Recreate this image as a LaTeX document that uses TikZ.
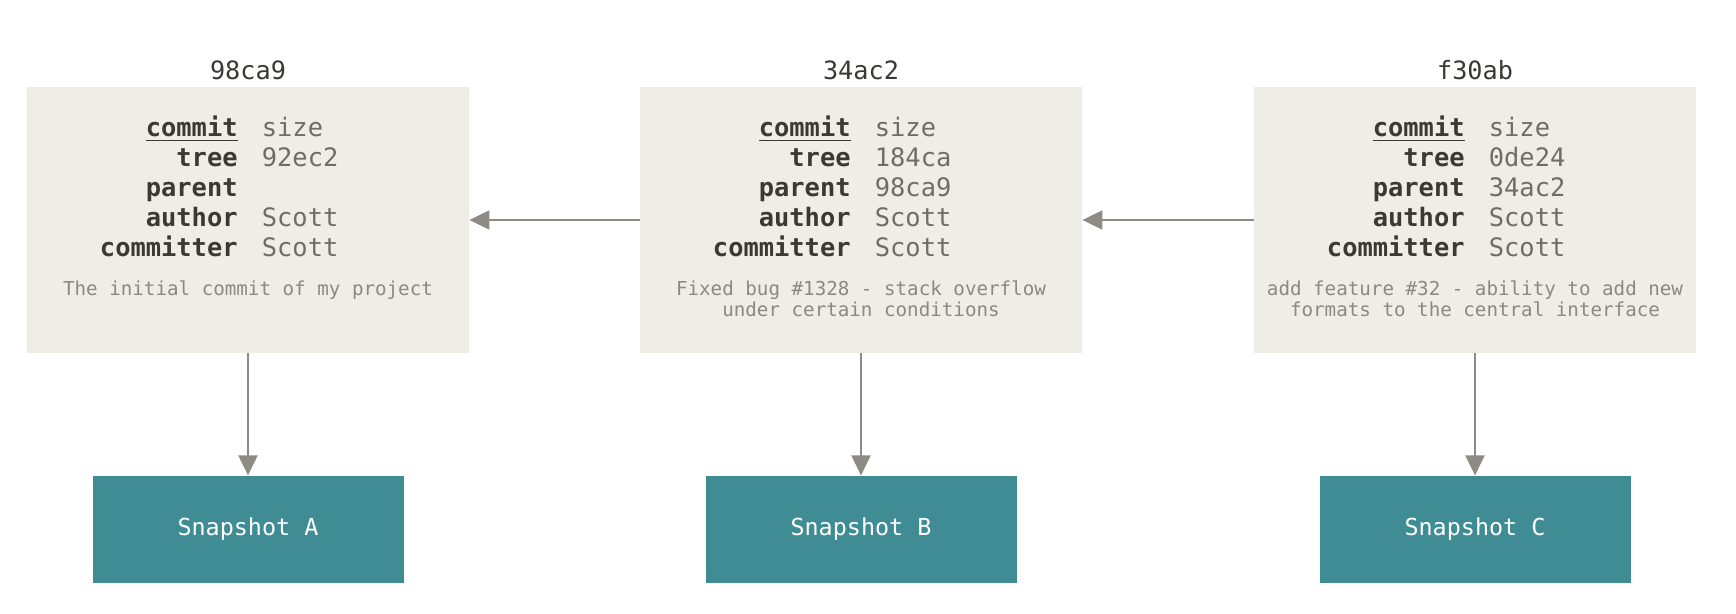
\documentclass[tikz,border=0pt]{standalone}
\usepackage{fontspec}
\setmonofont{DejaVu Sans Mono}
\usetikzlibrary{arrows.meta,positioning}
\definecolor{boxgray}{HTML}{EEEDE6}
\definecolor{snapteal}{HTML}{3F8C95}
\definecolor{linegray}{HTML}{8E8A84}
\definecolor{keyink}{HTML}{3C3935}
\definecolor{valink}{HTML}{706C67}
\definecolor{msgink}{HTML}{8C8883}

\begin{document}
\begin{tikzpicture}[x=0.5pt,y=-0.5pt]
  \tikzstyle{commitbox}=[rectangle,fill=boxgray,minimum width=221pt,minimum height=133pt,inner sep=0pt]
  \tikzstyle{snapbox}=[rectangle,fill=snapteal,minimum width=155.5pt,minimum height=53.5pt,inner sep=0pt,text=white,font=\ttfamily\fontsize{11.7}{14}\selectfont]
  \tikzstyle{hashlbl}=[inner sep=0pt,text=keyink,font=\ttfamily\fontsize{12.6}{15}\selectfont]
  \tikzstyle{key}=[anchor=base east,inner sep=0pt,text=keyink,font=\ttfamily\bfseries\fontsize{12.7}{15}\selectfont]
  \tikzstyle{val}=[anchor=base west,inner sep=0pt,text=valink,font=\ttfamily\fontsize{12.7}{15}\selectfont]
  \tikzstyle{msg}=[anchor=north,inner sep=0pt,align=center,text=msgink,font=\ttfamily\fontsize{9.6}{10.5}\selectfont]
  \tikzstyle{parentarrow}=[draw=linegray,line width=1pt,-{Triangle[length=10pt,width=9.5pt]}]
  \useasboundingbox (0,0) rectangle (1736,614);

  % commits and their snapshots
  \foreach \i/\cx/\hash/\tree/\prnt/\msg/\snap in {
      1/248/98ca9/92ec2//{The initial commit of my project}/A,
      2/861/34ac2/184ca/98ca9/{Fixed bug \#1328 - stack overflow\\under certain conditions}/B,
      3/1475/f30ab/0de24/34ac2/{add feature \#32 - ability to add new\\formats to the central interface}/C} {
    \node[commitbox,label={[hashlbl,label distance=3pt]above:\hash}] (c\i) at (\cx,220) {};
    \foreach \key/\val [count=\r] in {{\underline{commit}}/size,tree/\tree,parent/\prnt,author/Scott,committer/Scott} {
      \node[key] (k\i\r) at (\cx-10,107+30*\r) {\key};
      \node[val] (v\i\r) at (\cx+13.5,107+30*\r) {\val};
    }
    \node[msg] (m\i) at (\cx,280.5) {\msg};
    \node[snapbox,below=61pt of c\i] (s\i) {Snapshot \snap};
    \draw[parentarrow] (c\i) -- (s\i);
  }

  % parent links
  \foreach \i/\j in {2/1,3/2}
    \draw[parentarrow] (c\i) -- (c\j);
\end{tikzpicture}
\end{document}
